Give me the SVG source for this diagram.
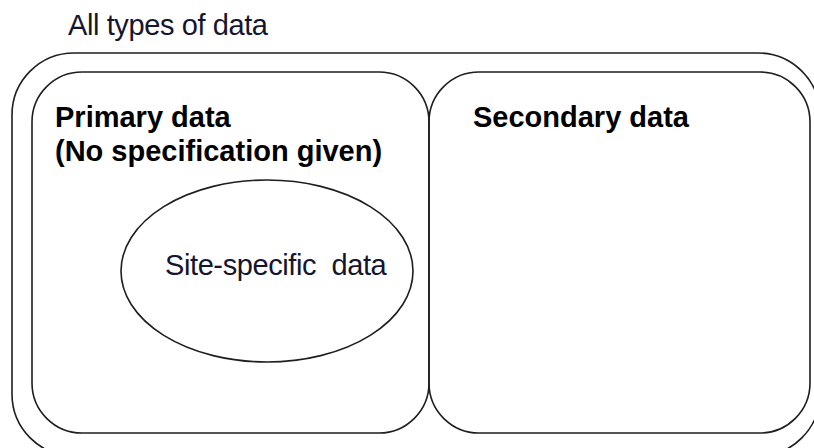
<svg xmlns="http://www.w3.org/2000/svg" width="814" height="448" viewBox="0 0 814 448">
<style>
.box{fill:none;stroke:#1e1e1e;stroke-width:1.6}
.reg{font-family:"Liberation Sans",Arial,sans-serif;font-size:29px;fill:#15152e;letter-spacing:-0.4px;white-space:pre}
.bold{font-family:"Liberation Sans",Arial,sans-serif;font-size:29px;font-weight:bold;fill:#000}
</style>
<rect width="814" height="448" fill="#fff"/>
<g id="all-data">
<rect class="box" x="12" y="53" width="808" height="403" rx="62" ry="62"/>
<text class="reg" x="68" y="35">All types of data</text>
</g>
<g id="primary-data">
<rect class="box" x="32" y="72" width="397" height="361" rx="50" ry="50"/>
<text class="bold" x="55" y="127">Primary data</text>
<text class="bold" x="55" y="161">(No specification given)</text>
</g>
<g id="secondary-data">
<rect class="box" x="429" y="72" width="381" height="361" rx="50" ry="50"/>
<text class="bold" x="473" y="127">Secondary data</text>
</g>
<g id="site-specific">
<ellipse class="box" cx="267" cy="271" rx="146" ry="91"/>
<text class="reg" x="165" y="275">Site-specific  data</text>
</g>
<g id="connectors"></g>
</svg>
